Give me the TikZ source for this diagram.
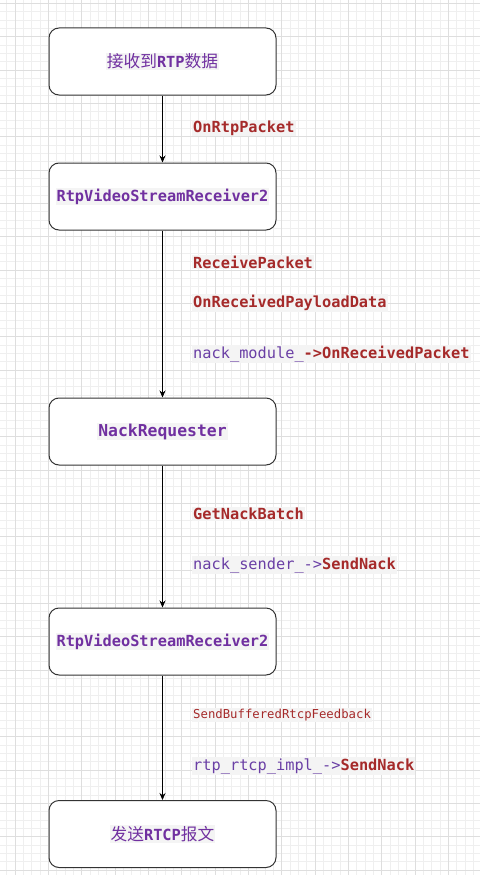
\documentclass[tikz,border=0pt]{standalone}
\usepackage{fontspec}
\usetikzlibrary{arrows.meta}
\newfontfamily\mono{DejaVu Sans Mono}
\newfontfamily\cjk{Noto Sans CJK SC}
\definecolor{pur}{HTML}{7030A0}
\definecolor{pur2}{HTML}{6A3FA5}
\definecolor{rd}{HTML}{A52A2A}
\definecolor{hl}{HTML}{F4F4F4}
\definecolor{gmaj}{HTML}{DEDEDE}
\definecolor{gmin}{HTML}{EFEFEF}
\definecolor{bd}{HTML}{333333}
\setlength{\fboxsep}{1pt}
\begin{document}
\begin{tikzpicture}[x=1pt,y=-1pt,
  box/.style={draw=bd, line width=1pt, rounded corners=10pt, fill=white,
    minimum width=227pt, minimum height=67pt, inner sep=0pt, text=pur,
    font=\mono\bfseries\fontsize{15.3}{18}\selectfont},
  lbl/.style={anchor=west, fill=hl, inner sep=1pt, text=rd,
    font=\mono\bfseries\fontsize{15.3}{18}\selectfont},
  lblsmall/.style={anchor=west, fill=hl, inner sep=1pt, text=rd,
    font=\mono\fontsize{12.3}{15}\selectfont},
  arr/.style={draw=black, line width=0.8pt, -{Stealth[length=7pt,width=6pt]}}]
\useasboundingbox (0,0) rectangle (480,875);
\fill[white] (0,0) rectangle (480,875);
% grid
\foreach \i in {0,...,57} {\draw[gmin, line width=0.6pt] ({6.667+8.3333*\i},0) -- ({6.667+8.3333*\i},875);}
\foreach \i in {0,...,105} {\draw[gmin, line width=0.6pt] (0,{3.333+8.3333*\i}) -- (480,{3.333+8.3333*\i});}
\foreach \i in {0,...,14} {\draw[gmaj, line width=0.7pt] ({15+33.333*\i},0) -- ({15+33.333*\i},875);}
\foreach \i in {0,...,26} {\draw[gmaj, line width=0.7pt] (0,{3.333+33.333*\i}) -- (480,{3.333+33.333*\i});}
% boxes
\node[box] (b1) at (162.5,61.5) {\colorbox{hl}{{\cjk\mdseries\fontsize{16.7}{20}\selectfont 接收到}RTP{\cjk\mdseries\fontsize{16.7}{20}\selectfont 数据}}};
\node[box] (b2) at (162.5,196.5) {\colorbox{hl}{RtpVideoStreamReceiver2}};
\node[box] (b3) at (162.5,431.5) {\colorbox{hl}{\fontsize{16.4}{19}\selectfont NackRequester}};
\node[box] (b4) at (162.5,641.5) {\colorbox{hl}{RtpVideoStreamReceiver2}};
\node[box] (b5) at (162.5,834) {\colorbox{hl}{{\cjk\mdseries\fontsize{16.7}{20}\selectfont 发送}RTCP{\cjk\mdseries\fontsize{16.7}{20}\selectfont 报文}}};
% connectors
\draw[arr] (b1) -- (b2);
\draw[arr] (b2) -- (b3);
\draw[arr] (b3) -- (b4);
\draw[arr] (b4) -- (b5);
% labels
\node[lbl] (l1) at (192,128) {OnRtpPacket};
\node[lbl] (l2) at (192,262) {ReceivePacket};
\node[lbl] (l3) at (192,303) {OnReceivedPayloadData};
\node[lbl] (l4) at (192,354) {{\mdseries\color{pur2}nack\_module\_}->OnReceivedPacket};
\node[lbl] (l5) at (192,514) {GetNackBatch};
\node[lbl] (l6) at (192,565) {{\mdseries\color{pur2}nack\_sender\_->}SendNack};
\node[lblsmall] (l7) at (192,715) {SendBufferedRtcpFeedback};
\node[lbl] (l8) at (192,766) {{\mdseries\color{pur2}rtp\_rtcp\_impl\_->}SendNack};
\end{tikzpicture}
\end{document}
